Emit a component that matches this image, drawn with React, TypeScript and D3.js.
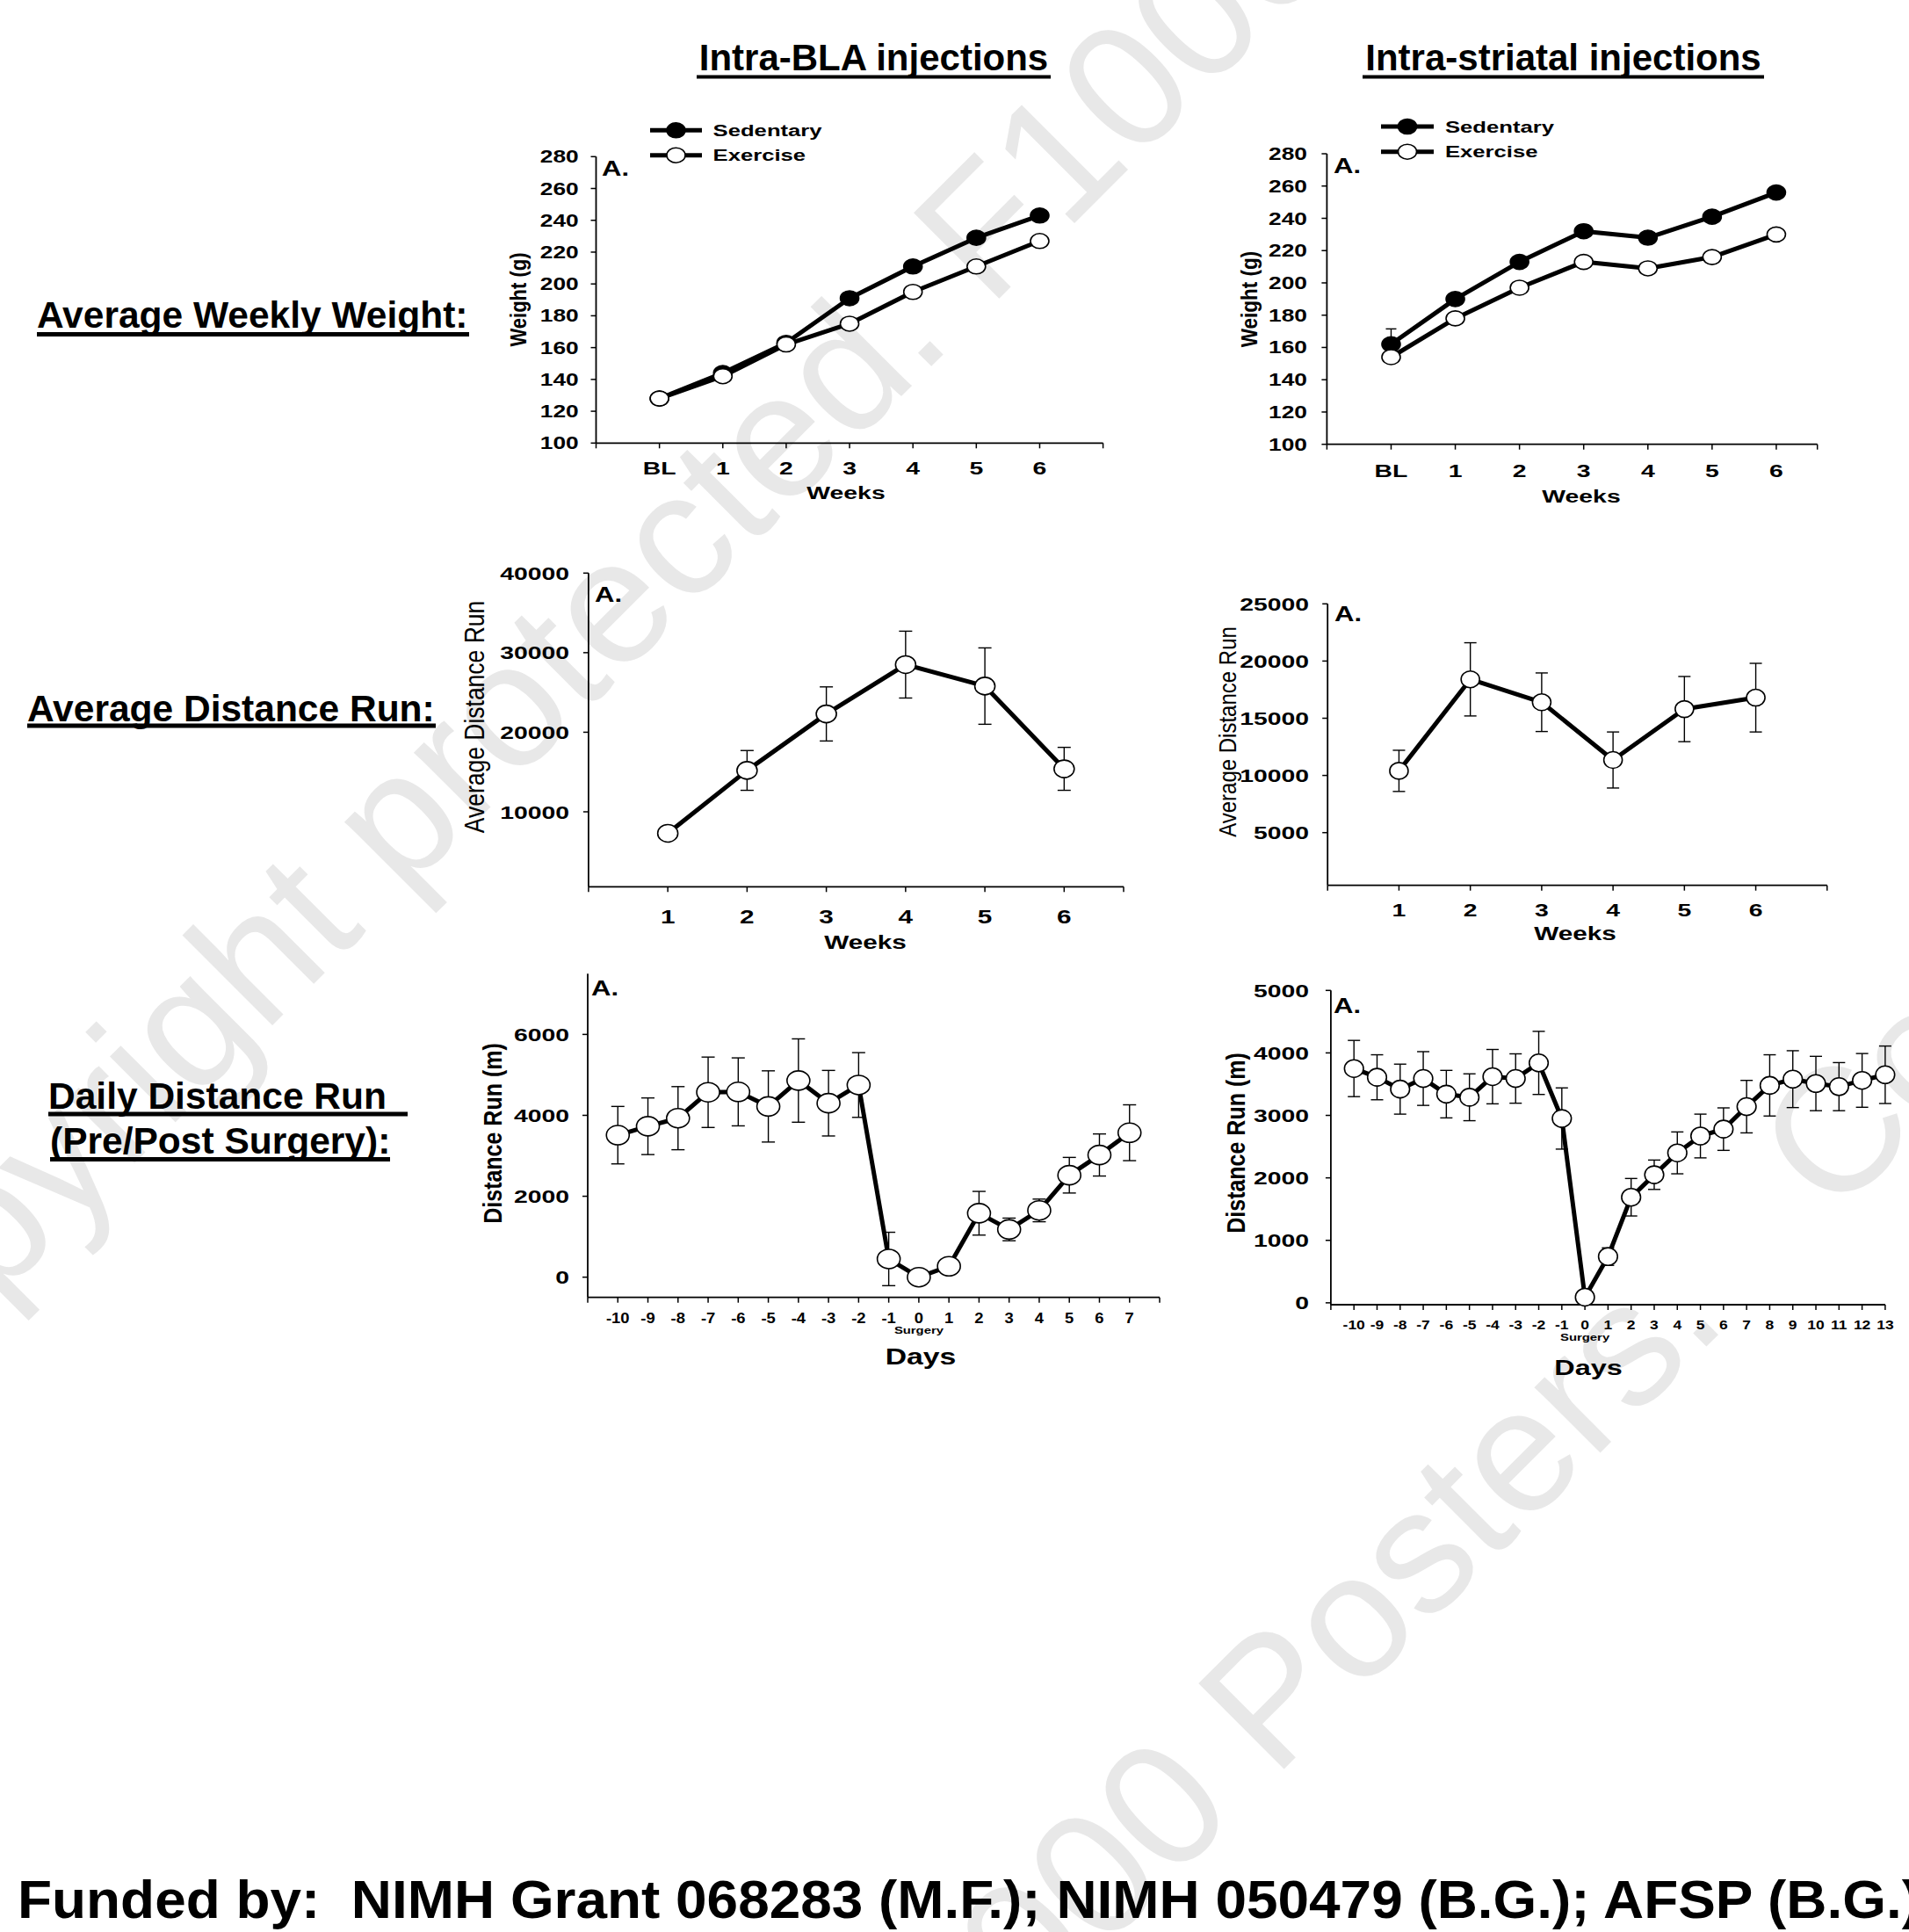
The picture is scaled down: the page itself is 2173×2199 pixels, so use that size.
import React from "react";
import * as d3 from "d3";

// ---------------- data ----------------
const weekLabels = ["BL", "1", "2", "3", "4", "5", "6"];
const weekIndex = [0, 1, 2, 3, 4, 5, 6];
const blaSedentaryWeight = [128, 144, 163, 191, 211, 229, 243];
const blaExerciseWeight = [128, 142, 162, 175, 195, 211, 227];
const striatalSedentaryWeight = [162, 190, 213, 232, 228, 241, 256];
const striatalSedentaryWeightErr = [9.5, 0, 0, 0, 0, 0, 0];
const striatalExerciseWeight = [154, 178, 197, 213, 209, 216, 230];
const weightTicks = [100, 120, 140, 160, 180, 200, 220, 240, 260, 280];

const runWeeks = [1, 2, 3, 4, 5, 6];
const runWeekLabels = ["1", "2", "3", "4", "5", "6"];
const blaAvgDistance = [7300, 15200, 22300, 28500, 25800, 15400];
const blaAvgDistanceErr = [0, 2500, 3400, 4200, 4800, 2700];
const blaAvgTicks = [10000, 20000, 30000, 40000];
const striatalAvgDistance = [10400, 18400, 16400, 11350, 15800, 16800];
const striatalAvgDistanceErr = [1800, 3200, 2560, 2450, 2850, 3000];
const striatalAvgTicks = [5000, 10000, 15000, 20000, 25000];

const blaDays = [-10, -9, -8, -7, -6, -5, -4, -3, -2, -1, 0, 1, 2, 3, 4, 5, 6, 7];
const blaDaily = [3510, 3730, 3930, 4570, 4580, 4220, 4860, 4300, 4750, 450, 0, 270, 1580, 1180, 1650, 2520, 3020, 3570];
const blaDailyErr = [710, 700, 780, 870, 840, 880, 1030, 810, 800, 660, 0, 0, 540, 280, 280, 440, 520, 690];
const blaDailyTicks = [0, 2000, 4000, 6000];

const striatalDays = [-10, -9, -8, -7, -6, -5, -4, -3, -2, -1, 0, 1, 2, 3, 4, 5, 6, 7, 8, 9, 10, 11, 12, 13];
const striatalDaily = [3750, 3610, 3420, 3590, 3340, 3290, 3620, 3590, 3840, 2950, 90, 740, 1690, 2050, 2400, 2670, 2780, 3140, 3480, 3580, 3510, 3460, 3560, 3650];
const striatalDailyErr = [450, 360, 400, 430, 380, 375, 435, 395, 505, 490, 0, 140, 300, 235, 335, 350, 340, 420, 490, 455, 435, 385, 430, 460];
const striatalDailyTicks = [0, 1000, 2000, 3000, 4000, 5000];

const columnTitles = ["Intra-BLA injections", "Intra-striatal injections"];
const rowTitles = ["Average Weekly Weight:", "Average Distance Run:", "Daily Distance Run ", "(Pre/Post Surgery):"];
const legendLabels = ["Sedentary", "Exercise"];
const footer = "Funded by:  NIMH Grant 068283 (M.F.); NIMH 050479 (B.G.); AFSP (B.G.)";
const watermark = ["Copyright protected. F1000 Posters.", "Copyright protected. F1000 Posters.   Copyright protected."];

// ---------------- helpers ----------------
const FONT = "'Liberation Sans', Arial, Helvetica, sans-serif";
const SX = 1.35;

function Txt({ x, y, size, children, weight = 700, anchor = "start", sx = 1, rot = 0, fill = "#000", tl }: any) {
  const tf = `translate(${x},${y})` + (sx !== 1 ? ` scale(${sx},1)` : "") + (rot ? ` rotate(${rot})` : "");
  const extra: any = {};
  if (tl) {
    extra.textLength = tl;
    extra.lengthAdjust = "spacingAndGlyphs";
  }
  return (
    <text
      transform={tf}
      fontFamily={FONT}
      fontSize={size}
      fontWeight={weight}
      textAnchor={anchor}
      fill={fill}
      style={{ whiteSpace: "pre" }}
      {...extra}
    >
      {children}
    </text>
  );
}

type Series = { x: number[]; y: number[]; err?: number[]; fill: string };

function Panel(p: any) {
  const x = d3.scaleLinear().domain(p.xDomain).range(p.xRange);
  const y = d3.scaleLinear().domain(p.yDomain).range(p.yRange);
  const [xa, xb] = p.xRange;
  const yb = p.yRange[0];
  const yt = p.yRange[1];
  const tickXs: number[] = d3.range(Math.ceil(p.xDomain[0]), Math.floor(p.xDomain[1]) + 1);
  if (tickXs[tickXs.length - 1] !== p.xDomain[1]) tickXs.push(p.xDomain[1]);
  const line = d3
    .line<[number, number]>()
    .x((d) => x(d[0]))
    .y((d) => y(d[1]));
  const series: Series[] = p.series;
  return (
    <g>
      {/* axes */}
      <line x1={xa} x2={xa} y1={yb} y2={yt} stroke="#000" strokeWidth={1.8} />
      <line x1={xa} x2={xb} y1={yb} y2={yb} stroke="#000" strokeWidth={1.8} />
      {p.yTicks.map((t: number) => (
        <g key={"yt" + t}>
          <line x1={xa - 6} x2={xa} y1={y(t)} y2={y(t)} stroke="#000" strokeWidth={1.5} />
          <Txt x={p.yLabelRight} y={y(t) + p.yTickSize * 0.36} size={p.yTickSize} anchor="end" sx={SX}>
            {d3.format("d")(t)}
          </Txt>
        </g>
      ))}
      {tickXs.map((t: number) => (
        <line key={"xt" + t} x1={x(t)} x2={x(t)} y1={yb} y2={yb + 6} stroke="#000" strokeWidth={1.5} />
      ))}
      {p.xTicks.map((t: number, i: number) => (
        <Txt key={"xl" + t} x={x(t)} y={p.xLabelBaseline} size={p.xTickSize} anchor="middle" sx={p.xLabelSx ?? SX}>
          {p.xLabels[i]}
        </Txt>
      ))}
      {p.surgery && (
        <Txt x={x(0)} y={p.surgery.y} size={p.surgery.size} anchor="middle" sx={SX}>
          Surgery
        </Txt>
      )}
      <Txt x={p.xTitle.x} y={p.xTitle.y} size={p.xTitle.size} anchor="middle" sx={SX}>
        {p.xTitle.text}
      </Txt>
      <Txt x={p.yTitle.x} y={p.yTitle.y} size={p.yTitle.size} anchor="middle" sx={1.15} rot={-90} weight={p.yTitle.weight}>
        {p.yTitle.text}
      </Txt>
      <Txt x={p.aLabel.x} y={p.aLabel.y} size={23} sx={SX}>
        A.
      </Txt>
      {/* error bars */}
      {series.map((s, si) =>
        s.err
          ? s.x.map((xv, i) => {
              const e = s.err![i];
              if (!e) return null;
              const cx = x(xv);
              const y1 = y(s.y[i] - e);
              const y2 = y(s.y[i] + e);
              return (
                <g key={`e${si}-${i}`} stroke="#000" strokeWidth={1.4}>
                  <line x1={cx} x2={cx} y1={y1} y2={y2} />
                  <line x1={cx - p.capW} x2={cx + p.capW} y1={y1} y2={y1} />
                  <line x1={cx - p.capW} x2={cx + p.capW} y1={y2} y2={y2} />
                </g>
              );
            })
          : null
      )}
      {/* lines */}
      {series.map((s, si) => (
        <path
          key={"l" + si}
          d={line(s.x.map((xv, i) => [xv, s.y[i]] as [number, number])) || ""}
          fill="none"
          stroke="#000"
          strokeWidth={p.lineW}
          strokeLinejoin="round"
        />
      ))}
      {/* markers */}
      {series.map((s, si) =>
        s.x.map((xv, i) => (
          <ellipse
            key={`m${si}-${i}`}
            cx={x(xv)}
            cy={y(s.y[i])}
            rx={p.rx}
            ry={p.ry}
            fill={s.fill}
            stroke="#000"
            strokeWidth={1.6}
          />
        ))
      )}
      {/* legend */}
      {p.legend &&
        p.legend.items.map((it: any, i: number) => (
          <g key={"lg" + i}>
            <line x1={p.legend.x0} x2={p.legend.x1} y1={it.y} y2={it.y} stroke="#000" strokeWidth={p.lineW} />
            <ellipse
              cx={(p.legend.x0 + p.legend.x1) / 2}
              cy={it.y}
              rx={p.rx}
              ry={p.ry}
              fill={it.fill}
              stroke="#000"
              strokeWidth={1.6}
            />
            <Txt x={p.legend.textX} y={it.y + 6.5} size={19} sx={SX}>
              {it.label}
            </Txt>
          </g>
        ))}
    </g>
  );
}

export default function App() {
  const W = 2173;
  const H = 2199;
  return (
    <svg
      width={W}
      height={H}
      viewBox={`0 0 ${W} ${H}`}
      style={{ position: "absolute", left: 0, top: 0, display: "block", background: "#fff" }}
    >
      <rect x={0} y={0} width={W} height={H} fill="#fff" />
      {/* watermark */}
      <Txt x={-187} y={1664} size={200} weight={400} rot={-45} fill="#e8e8e8">
        {watermark[0]}
      </Txt>
      <Txt x={-303} y={3778} size={200} weight={400} rot={-45} fill="#e8e8e8">
        {watermark[1]}
      </Txt>

      {/* column titles */}
      <Txt x={994.5} y={80} size={42} anchor="middle">
        {columnTitles[0]}
      </Txt>
      <rect x={793} y={85.5} width={403} height={4} fill="#000" />
      <Txt x={1779.5} y={80} size={42} anchor="middle">
        {columnTitles[1]}
      </Txt>
      <rect x={1551} y={85.5} width={457} height={4} fill="#000" />

      {/* row titles */}
      <Txt x={42} y={373} size={42.5}>
        {rowTitles[0]}
      </Txt>
      <rect x={42} y={378} width={492} height={5} fill="#000" />
      <Txt x={31} y={821} size={42.5}>
        {rowTitles[1]}
      </Txt>
      <rect x={31} y={823.5} width={465} height={5} fill="#000" />
      <Txt x={55} y={1262} size={42.5}>
        {rowTitles[2]}
      </Txt>
      <rect x={55} y={1265.5} width={409} height={5} fill="#000" />
      <Txt x={57} y={1313} size={42.5}>
        {rowTitles[3]}
      </Txt>
      <rect x={57} y={1317} width={387} height={5} fill="#000" />

      {/* Panel: BLA weight */}
      <Panel
        xDomain={[-1, 7]}
        xRange={[678.5, 1255.6]}
        yDomain={[100, 280]}
        yRange={[504.3, 178.3]}
        yTicks={weightTicks}
        yTickSize={19.5}
        yLabelRight={658.7}
        xTicks={weekIndex}
        xLabels={weekLabels}
        xTickSize={21}
        xLabelBaseline={540}
        series={[
          { x: weekIndex, y: blaSedentaryWeight, fill: "#000" },
          { x: weekIndex, y: blaExerciseWeight, fill: "#fff" },
        ]}
        rx={10.5}
        ry={8.5}
        lineW={5}
        capW={6}
        xTitle={{ text: "Weeks", x: 963, y: 568, size: 21 }}
        yTitle={{ text: "Weight (g)", x: 599, y: 341, size: 22, weight: 700 }}
        aLabel={{ x: 685, y: 200 }}
        legend={{
          x0: 740,
          x1: 799,
          textX: 811.6,
          items: [
            { label: legendLabels[0], fill: "#000", y: 148.3 },
            { label: legendLabels[1], fill: "#fff", y: 176.7 },
          ],
        }}
      />

      {/* Panel: striatal weight */}
      <Panel
        xDomain={[-1, 6.64]}
        xRange={[1510.4, 2068.7]}
        yDomain={[100, 280]}
        yRange={[505.7, 175]}
        yTicks={weightTicks}
        yTickSize={19.5}
        yLabelRight={1488}
        xTicks={weekIndex}
        xLabels={weekLabels}
        xTickSize={21}
        xLabelBaseline={543}
        series={[
          { x: weekIndex, y: striatalSedentaryWeight, err: striatalSedentaryWeightErr, fill: "#000" },
          { x: weekIndex, y: striatalExerciseWeight, fill: "#fff" },
        ]}
        rx={10.5}
        ry={8.5}
        lineW={5}
        capW={6}
        xTitle={{ text: "Weeks", x: 1800, y: 572, size: 21 }}
        yTitle={{ text: "Weight (g)", x: 1431, y: 340.5, size: 22.5, weight: 700 }}
        aLabel={{ x: 1518, y: 197 }}
        legend={{
          x0: 1572,
          x1: 1632,
          textX: 1645,
          items: [
            { label: legendLabels[0], fill: "#000", y: 144 },
            { label: legendLabels[1], fill: "#fff", y: 172.7 },
          ],
        }}
      />

      {/* Panel: BLA average distance */}
      <Panel
        xDomain={[0, 6.75]}
        xRange={[669.9, 1279]}
        yDomain={[580, 40000]}
        yRange={[1009.3, 652.3]}
        yTicks={blaAvgTicks}
        yTickSize={21}
        yLabelRight={648}
        xTicks={runWeeks}
        xLabels={runWeekLabels}
        xTickSize={22}
        xLabelBaseline={1051}
        series={[{ x: runWeeks, y: blaAvgDistance, err: blaAvgDistanceErr, fill: "#fff" }]}
        rx={11.5}
        ry={10}
        lineW={5}
        capW={7.5}
        xTitle={{ text: "Weeks", x: 985, y: 1080, size: 22 }}
        yTitle={{ text: "Average Distance Run", x: 551, y: 816, size: 26.5, weight: 400 }}
        aLabel={{ x: 677, y: 685 }}
      />

      {/* Panel: striatal average distance */}
      <Panel
        xDomain={[0, 7]}
        xRange={[1511.2, 2079.8]}
        yDomain={[392, 25000]}
        yRange={[1007.7, 687.3]}
        yTicks={striatalAvgTicks}
        yTickSize={21}
        yLabelRight={1490}
        xTicks={runWeeks}
        xLabels={runWeekLabels}
        xTickSize={21}
        xLabelBaseline={1043}
        series={[{ x: runWeeks, y: striatalAvgDistance, err: striatalAvgDistanceErr, fill: "#fff" }]}
        rx={10.5}
        ry={9.5}
        lineW={5}
        capW={7}
        xTitle={{ text: "Weeks", x: 1793, y: 1070, size: 22 }}
        yTitle={{ text: "Average Distance Run", x: 1407, y: 833, size: 24, weight: 400 }}
        aLabel={{ x: 1519, y: 707 }}
      />

      {/* Panel: BLA daily distance */}
      <Panel
        xDomain={[-11, 8]}
        xRange={[669, 1320]}
        yDomain={[-500, 7500]}
        yRange={[1476.7, 1108.3]}
        yTicks={blaDailyTicks}
        yTickSize={21}
        yLabelRight={648}
        xTicks={blaDays}
        xLabels={blaDays.map(String)}
        xTickSize={16}
        xLabelSx={1.15}
        xLabelBaseline={1506}
        series={[{ x: blaDays, y: blaDaily, err: blaDailyErr, fill: "#fff" }]}
        rx={13}
        ry={11}
        lineW={5}
        capW={7.5}
        surgery={{ y: 1518, size: 11 }}
        xTitle={{ text: "Days", x: 1048, y: 1553, size: 25 }}
        yTitle={{ text: "Distance Run (m)", x: 571, y: 1290, size: 25, weight: 700 }}
        aLabel={{ x: 673, y: 1133 }}
      />

      {/* Panel: striatal daily distance */}
      <Panel
        xDomain={[-11, 13]}
        xRange={[1514.9, 2145.9]}
        yDomain={[-30, 5000]}
        yRange={[1485, 1127.3]}
        yTicks={striatalDailyTicks}
        yTickSize={21}
        yLabelRight={1490}
        xTicks={striatalDays}
        xLabels={striatalDays.map(String)}
        xTickSize={14}
        xLabelSx={1.25}
        xLabelBaseline={1513}
        series={[{ x: striatalDays, y: striatalDaily, err: striatalDailyErr, fill: "#fff" }]}
        rx={10.8}
        ry={10}
        lineW={5}
        capW={7}
        surgery={{ y: 1526, size: 11 }}
        xTitle={{ text: "Days", x: 1808, y: 1565, size: 24 }}
        yTitle={{ text: "Distance Run (m)", x: 1417, y: 1301, size: 25, weight: 700 }}
        aLabel={{ x: 1518, y: 1153 }}
      />

      {/* footer */}
      <Txt x={20} y={2183} size={62} tl={2166}>
        {footer}
      </Txt>
    </svg>
  );
}
